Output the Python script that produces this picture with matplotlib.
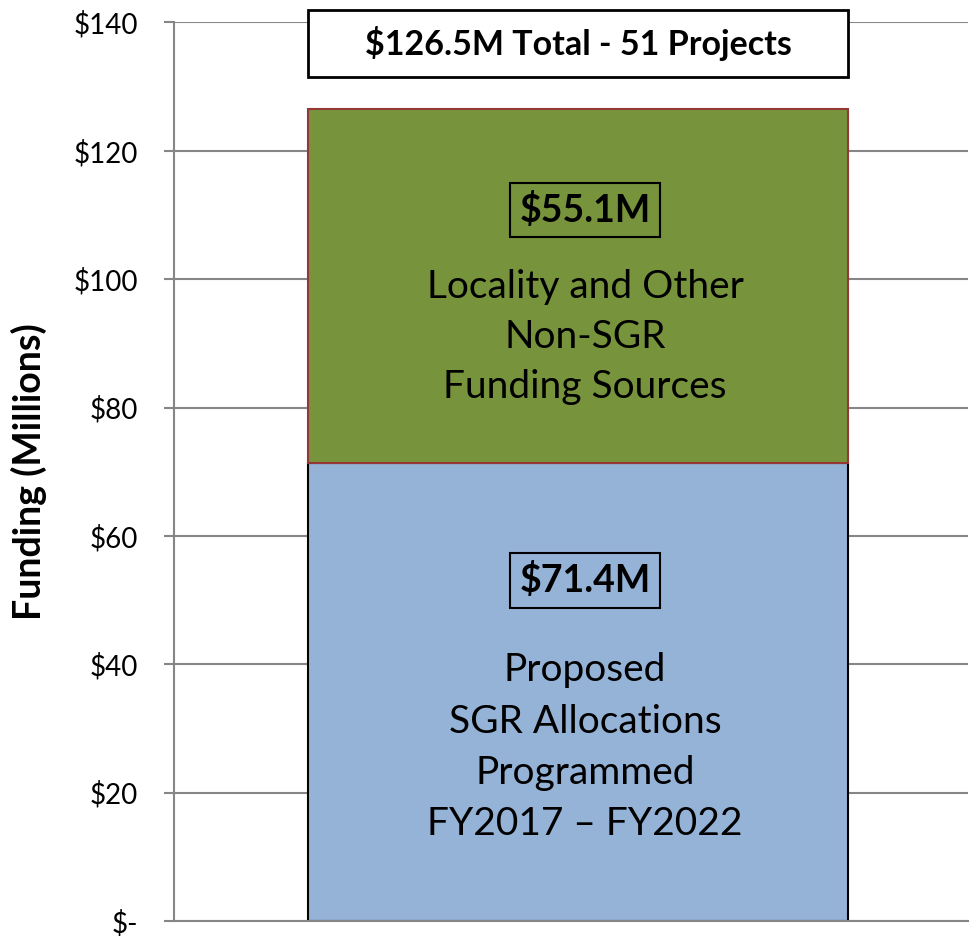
import matplotlib.pyplot as plt
from matplotlib.patches import Rectangle

plt.rcParams['font.family'] = ['Lato', 'DejaVu Sans']

# data
sgr_value = 71.4
other_value = 55.1
total_label = "$126.5M Total - 51 Projects"
sgr_label = "$71.4M"
other_label = "$55.1M"
sgr_text = "Proposed\nSGR Allocations\nProgrammed\nFY2017 \u2013 FY2022"
other_text = "Locality and Other\nNon-SGR\nFunding Sources"
yticks = [0, 20, 40, 60, 80, 100, 120, 140]
ytick_labels = ["$-", "$20", "$40", "$60", "$80", "$100", "$120", "$140"]

fig = plt.figure(figsize=(9.69, 9.36), dpi=100)
ax = fig.add_axes([0.1796, 0.016, 0.8194, 0.96])

grid_col = "#868686"
ax.set_ylim(0, 140)
ax.set_xlim(-0.748, 0.722)
ax.set_yticks(yticks)
ax.set_yticklabels(ytick_labels, fontsize=20)
ax.set_xticks([])
ax.yaxis.grid(True, color=grid_col, linewidth=1.5)
ax.set_axisbelow(True)
for s in ["top", "right"]:
    ax.spines[s].set_visible(False)
for s in ["left", "bottom"]:
    ax.spines[s].set_color(grid_col)
    ax.spines[s].set_linewidth(1.5)
ax.tick_params(axis="y", length=7.2, width=1.5, color=grid_col, pad=19)

ax.bar(0, sgr_value, width=1, color="#95B3D7", edgecolor="black", linewidth=1.5)
ax.bar(0, other_value, bottom=sgr_value, width=1, color="#77933C",
       edgecolor="#953735", linewidth=1.5)

ax.set_ylabel("Funding (Millions)", fontsize=27, fontweight="bold")
ax.yaxis.set_label_coords(-0.16, 0.5)

tx = 0.013
# total box above the bar
ax.add_patch(Rectangle((-0.5, 131.5), 1, 10.4, facecolor="white",
                       edgecolor="black", linewidth=2, clip_on=False, zorder=5))
ax.text(0.0, 136.7, total_label, ha="center", va="center", fontsize=24.5,
        fontweight="bold", zorder=6, clip_on=False)

box = dict(boxstyle="square,pad=0.25", facecolor="none", edgecolor="black",
           linewidth=1.5)
ax.text(tx, 110.8, other_label, ha="center", va="center", fontsize=27,
        fontweight="bold", bbox=box)
ax.text(tx, 53.1, sgr_label, ha="center", va="center", fontsize=27,
        fontweight="bold", bbox=box)

ax.text(tx, 91.0, other_text, ha="center", va="center", fontsize=28,
        linespacing=1.47)
ax.text(tx, 27.1, sgr_text, ha="center", va="center", fontsize=28,
        linespacing=1.52)

fig.savefig("out.png", dpi=100)
